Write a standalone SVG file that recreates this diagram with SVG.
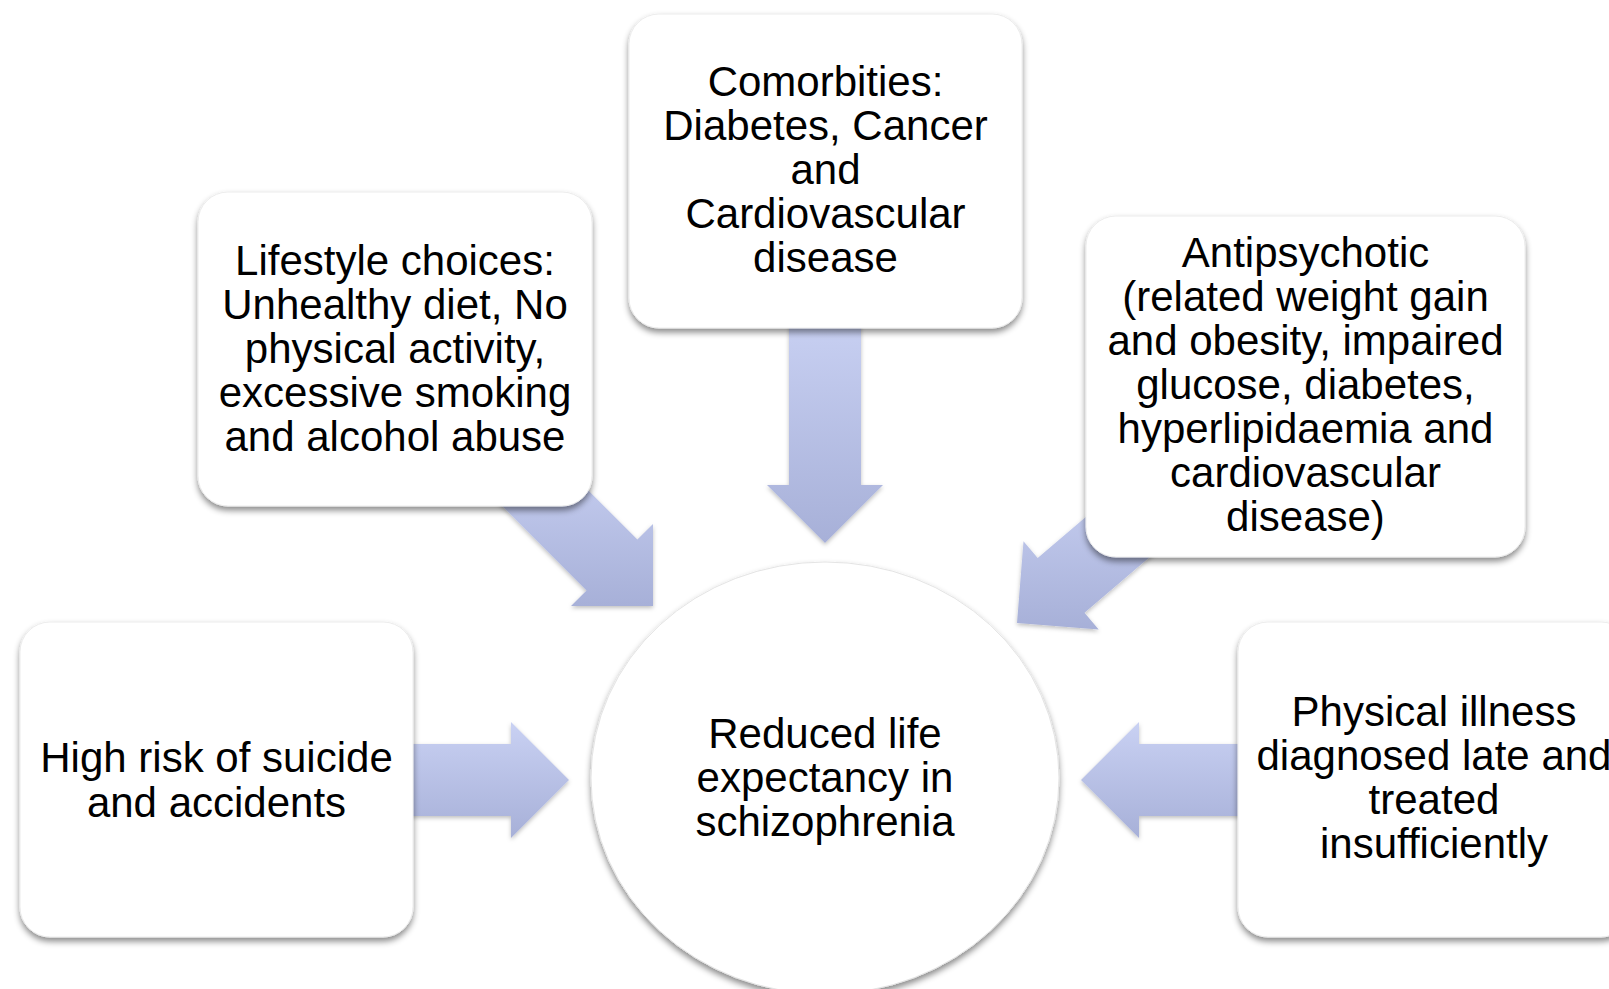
<svg xmlns="http://www.w3.org/2000/svg" width="1609" height="989" viewBox="0 0 1609 989">
  <defs>
    <linearGradient id="arrowFill" x1="0" y1="0" x2="0" y2="1">
      <stop offset="0" stop-color="#c9d1f3"/>
      <stop offset="1" stop-color="#a7b0d8"/>
    </linearGradient>
    <filter id="boxShadow" x="-10%" y="-10%" width="120%" height="125%">
      <feDropShadow dx="0" dy="4" stdDeviation="3" flood-color="#000" flood-opacity="0.45"/>
    </filter>
    <filter id="arrowShadow" x="-10%" y="-10%" width="120%" height="125%">
      <feDropShadow dx="0" dy="2" stdDeviation="2" flood-color="#000" flood-opacity="0.25"/>
    </filter>
  </defs>
  <style>
    .arrow { fill: url(#arrowFill); filter: url(#arrowShadow); }
    .box { fill: #ffffff; stroke: #ececec; stroke-width: 1; filter: url(#boxShadow); }
    .lbl { font-family: "Liberation Sans", Arial, sans-serif; font-size: 42px; fill: #000; text-anchor: middle; }
  </style>
  <rect x="0" y="0" width="1609" height="989" fill="#ffffff"/>

  <g id="connectors">
    <polygon class="arrow" points="789,313 789,485 767,485 825,543 883,485 861,485 861,313"/>
    <polygon class="arrow" points="544.1,446.2 637.4,539.5 653,524 653,606 571,606 586.5,590.5 493.2,497.1"/>
    <polygon class="arrow" points="1138.2,472.3 1037.7,558.0 1023.5,541.3 1017,623 1098.7,629.5 1084.5,612.8 1185.0,527.1"/>
    <polygon class="arrow" points="399,744 511,744 511,722 569,780 511,838 511,816 399,816"/>
    <polygon class="arrow" points="1251,744 1139,744 1139,722 1081,780 1139,838 1139,816 1251,816"/>
  </g>

  <g id="node-center">
    <ellipse cx="825" cy="778" rx="234" ry="216" fill="#ffffff" stroke="#e4e4e4" stroke-width="1" filter="url(#boxShadow)"/>
    <text class="lbl"><tspan x="825" y="748">Reduced life</tspan><tspan x="825" y="792">expectancy in</tspan><tspan x="825" y="836">schizophrenia</tspan></text>
  </g>

  <g id="node-comorbidities">
    <rect class="box" x="629" y="14" width="393" height="314" rx="30" ry="30"/>
    <text class="lbl"><tspan x="825.5" y="96">Comorbities:</tspan><tspan x="825.5" y="140">Diabetes, Cancer</tspan><tspan x="825.5" y="184">and</tspan><tspan x="825.5" y="228">Cardiovascular</tspan><tspan x="825.5" y="272">disease</tspan></text>
  </g>

  <g id="node-lifestyle">
    <rect class="box" x="198" y="192" width="394" height="314" rx="30" ry="30"/>
    <text class="lbl"><tspan x="395" y="275">Lifestyle choices:</tspan><tspan x="395" y="319">Unhealthy diet, No</tspan><tspan x="395" y="363">physical activity,</tspan><tspan x="395" y="407">excessive smoking</tspan><tspan x="395" y="451">and alcohol abuse</tspan></text>
  </g>

  <g id="node-antipsychotic">
    <rect class="box" x="1086" y="216" width="439" height="341" rx="30" ry="30"/>
    <text class="lbl"><tspan x="1305.5" y="267">Antipsychotic</tspan><tspan x="1305.5" y="311">(related weight gain</tspan><tspan x="1305.5" y="355">and obesity, impaired</tspan><tspan x="1305.5" y="399">glucose, diabetes,</tspan><tspan x="1305.5" y="443">hyperlipidaemia and</tspan><tspan x="1305.5" y="487">cardiovascular</tspan><tspan x="1305.5" y="531">disease)</tspan></text>
  </g>

  <g id="node-suicide">
    <rect class="box" x="20" y="622" width="393" height="315" rx="30" ry="30"/>
    <text class="lbl"><tspan x="216.5" y="772">High risk of suicide</tspan><tspan x="216.5" y="817">and accidents</tspan></text>
  </g>

  <g id="node-physical">
    <rect class="box" x="1238" y="622" width="393" height="315" rx="30" ry="30"/>
    <text class="lbl"><tspan x="1434" y="726">Physical illness</tspan><tspan x="1434" y="770">diagnosed late and</tspan><tspan x="1434" y="814">treated</tspan><tspan x="1434" y="858">insufficiently</tspan></text>
  </g>
</svg>
